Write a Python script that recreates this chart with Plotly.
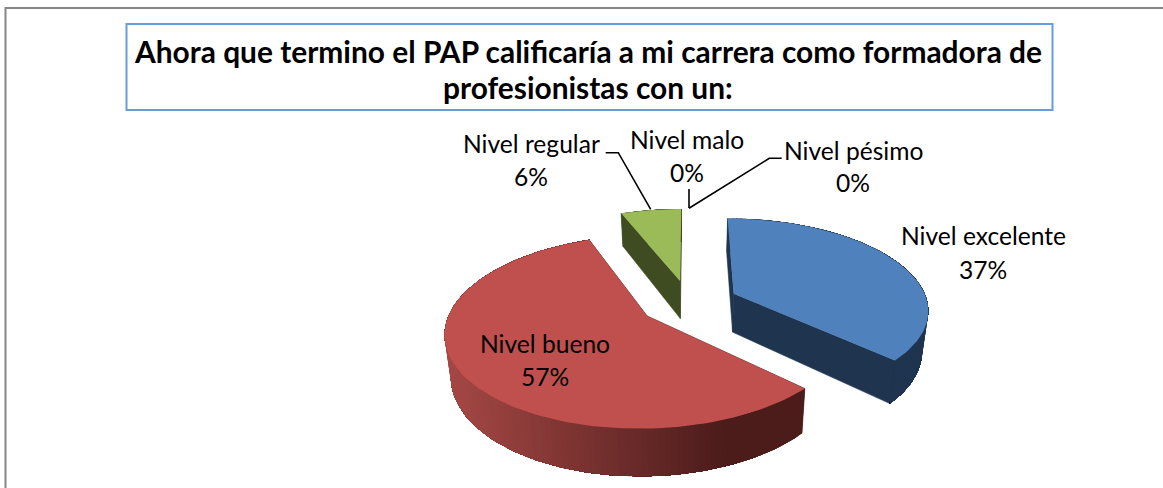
import math
import plotly.graph_objects as go

# ---- data ----
categories = ["Nivel excelente", "Nivel bueno", "Nivel regular", "Nivel malo", "Nivel pésimo"]
percents = [37, 57, 6, 0, 0]
title_lines = ["Ahora que termino el PAP calificaría a mi carrera como formadora de",
               "profesionistas con un:"]

# ---- styling ----
top_colors = {"Nivel excelente": "#4f81bd", "Nivel bueno": "#c0504d", "Nivel regular": "#9bbb59"}
cut_colors = {"Nivel excelente": "#1f344f", "Nivel bueno": "#4c1c1b", "Nivel regular": "#3f4c21"}
wall_shade = {"Nivel excelente": ((31, 52, 79), (31, 52, 79)),
              "Nivel bueno": ((165, 72, 69), (76, 28, 27)),
              "Nivel regular": ((63, 76, 33), (63, 76, 33))}
FONT = "Lato"

# ---- pie projection (pixels) ----
CX, CY = 689.0, 302.7
AX, AY = 194.0, 90.0
PERSP = 0.16
PULL = 0.255
DEPTH = 39.0
SHRINK = 0.975
SHADE_X0, SHADE_X1 = 447.0, 723.0


def project(wx, wy, bottom=False):
    s = 1.0 / (1.0 - PERSP * wy)
    x = CX + AX * wx * s
    y = CY + AY * wy * s
    if bottom:
        x = CX + (x - CX) * SHRINK
        y = y + DEPTH * s
    return x, y


def polygon(pts, color, edge=True):
    xs = [p[0] for p in pts]
    ys = [p[1] for p in pts]
    return go.Scatter(x=xs + [xs[0]], y=ys + [ys[0]], mode="lines",
                      fill="toself", fillcolor=color,
                      line=dict(color=color, width=0.6 if edge else 0),
                      hoverinfo="skip", showlegend=False)


def lerp(c1, c2, t):
    t = max(0.0, min(1.0, t))
    return "rgb(%d,%d,%d)" % tuple(round(a + (b - a) * t) for a, b in zip(c1, c2))


fig = go.Figure()
start = 0.0
total = sum(percents)
for name, pct in zip(categories, percents):
    if pct == 0:
        continue
    a0 = start
    a1 = start + pct / total * 2 * math.pi
    start = a1
    mid = (a0 + a1) / 2
    ox, oy = PULL * math.sin(mid), -PULL * math.cos(mid)
    n = max(6, int(pct * 2.5))
    angles = [a0 + (a1 - a0) * i / n for i in range(n + 1)]
    rim = [(ox + math.sin(a), oy - math.cos(a)) for a in angles]
    # cut faces
    for p in (rim[0], rim[-1]):
        fig.add_trace(polygon([project(ox, oy), project(*p), project(*p, bottom=True),
                               project(ox, oy, bottom=True)], cut_colors[name]))
    # outer wall: each band runs to the far end of the wall, so no seams show
    for i in range(n):
        part = rim[i:]
        pts = [project(*p) for p in part] + [project(*p, bottom=True) for p in reversed(part)]
        xm = (project(*rim[i])[0] + project(*rim[i + 1])[0]) / 2
        color = lerp(*wall_shade[name], (xm - SHADE_X0) / (SHADE_X1 - SHADE_X0))
        fig.add_trace(polygon(pts, color, edge=False))
    # top face
    fig.add_trace(polygon([project(ox, oy)] + [project(*p) for p in rim], top_colors[name], edge=False))

# leader lines
leaders = [
    ([605.7, 618.3, 650.7], [152.7, 152.7, 209.3]),
    ([689, 689], [189, 208]),
    ([689, 769.3, 781.7], [208.3, 158.3, 158.3]),
]
for lx, ly in leaders:
    fig.add_trace(go.Scatter(x=lx, y=ly, mode="lines", line=dict(color="black", width=1.6),
                             hoverinfo="skip", showlegend=False))

# labels
label_pos = {
    "Nivel excelente": (983, 235, 269),
    "Nivel bueno": (545, 343, 376),
    "Nivel regular": (531, 143, 176),
    "Nivel malo": (687, 139, 172),
    "Nivel pésimo": (853, 150, 182),
}
annotations = []
for name, pct in zip(categories, percents):
    x, y1, y2 = label_pos[name]
    for txt, y in ((name, y1), ("%d%%" % pct, y2)):
        annotations.append(dict(x=x, y=y, text=txt, showarrow=False, xref="x", yref="y",
                                xanchor="center", yanchor="middle",
                                font=dict(family=FONT, size=24.6, color="black")))
for txt, y in zip(title_lines, (51, 87)):
    annotations.append(dict(x=588, y=y, text="<b>%s</b>" % txt, showarrow=False, xref="x", yref="y",
                            xanchor="center", yanchor="middle",
                            font=dict(family=FONT, size=29.9, color="black")))

shapes = [
    dict(type="rect", xref="x", yref="y", x0=5.5, y0=8, x1=1175, y1=500,
         line=dict(color="#868686", width=2), layer="below"),
    dict(type="rect", xref="x", yref="y", x0=126.5, y0=24, x1=1052.5, y1=110,
         line=dict(color="#6a9bdc", width=2), layer="below"),
]

fig.update_layout(
    width=1163, height=488, margin=dict(l=0, r=0, t=0, b=0),
    paper_bgcolor="white", plot_bgcolor="white", showlegend=False,
    xaxis=dict(range=[0, 1163], visible=False, fixedrange=True),
    yaxis=dict(range=[488, 0], visible=False, fixedrange=True),
    annotations=annotations, shapes=shapes,
)
fig.write_html("out.html", post_script="document.body.style.margin='0';",
               config={"displayModeBar": False})
